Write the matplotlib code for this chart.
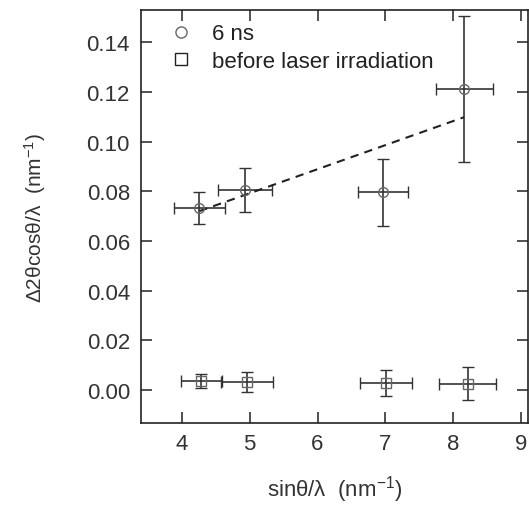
import matplotlib
matplotlib.use("Agg")
import matplotlib.pyplot as plt
from matplotlib.lines import Line2D
import numpy as np

plt.rcParams['font.family'] = ['Liberation Sans', 'DejaVu Sans']
plt.rcParams['mathtext.fontset'] = 'custom'
plt.rcParams['mathtext.rm'] = 'Liberation Sans'
plt.rcParams['mathtext.it'] = 'Liberation Sans'

# 6 ns data
ns_x = [4.26, 4.93, 6.96, 8.16]
ns_y = [0.0732, 0.0804, 0.0797, 0.1212]
ns_xerr = [0.38, 0.40, 0.37, 0.42]
ns_yerr = [0.0065, 0.0088, 0.0135, 0.0295]

# before laser irradiation
bl_x = [4.29, 4.96, 7.01, 8.21]
bl_y = [0.0035, 0.0033, 0.0028, 0.0025]
bl_xerr = [0.30, 0.38, 0.38, 0.42]
bl_yerr = [0.0028, 0.0040, 0.0052, 0.0066]

# linear fit (dashed)
fit_x = [4.26, 8.16]
fit_slope = 0.0097
fit_intercept = 0.0307

xticks = [4, 5, 6, 7, 8, 9]
yticks = [0.00, 0.02, 0.04, 0.06, 0.08, 0.10, 0.12, 0.14]

fig = plt.figure(figsize=(5.29, 5.06), dpi=100)
ax = fig.add_axes([141/529, 82/506, 387/529, 413/506])

ebc = '#333333'
mc = '#666666'
ax.errorbar(ns_x, ns_y, xerr=ns_xerr, yerr=ns_yerr, fmt='o', mfc='none', mec=mc,
            ms=7, mew=1.0, ecolor=ebc, elinewidth=1.2, capsize=4, capthick=1.2)
ax.errorbar(bl_x, bl_y, xerr=bl_xerr, yerr=bl_yerr, fmt='s', mfc='none', mec=mc,
            ms=6.5, mew=1.0, ecolor=ebc, elinewidth=1.2, capsize=4, capthick=1.2)
fx = np.array(fit_x)
ax.plot(fx, fit_slope * fx + fit_intercept, ls=(0, (4, 3)), color='#222222', lw=1.5)

ax.set_xlim(3.4, 9.1)
ax.set_ylim(-0.0133, 0.153)
ax.set_xticks(xticks)
ax.set_yticks(yticks)
ax.set_yticklabels([f"{v:.2f}" for v in yticks])
ax.tick_params(direction='in', length=8, width=1.2, top=True, right=True,
               labelsize=16, colors='#333333', labelcolor='#333333')
ax.tick_params(axis='y', pad=8)
ax.tick_params(axis='x', pad=7)
for s in ax.spines.values():
    s.set_linewidth(1.2)
    s.set_color('#222222')

ax.set_xlabel('sin\u03b8/\u03bb  (nm$^{-1}$)', fontsize=16, color='#333333', labelpad=14)
ax.set_ylabel('\u03942\u03b8cos\u03b8/\u03bb  (nm$^{-1}$)', fontsize=15, color='#333333', labelpad=28)

handles = [Line2D([], [], ls='none', marker='o', mfc='none', mec=mc, ms=8, mew=1.0),
           Line2D([], [], ls='none', marker='s', mfc='none', mec='#222222', ms=8, mew=1.0)]
ax.legend(handles, ['6 ns', 'before laser irradiation'], loc='upper left', frameon=False,
          fontsize=16, handletextpad=0.8, labelspacing=0.3, borderaxespad=0.2,
          bbox_to_anchor=(0.035, 1.0),
          handlelength=1.2, labelcolor='#222222')

fig.savefig('out.png', dpi=100)
